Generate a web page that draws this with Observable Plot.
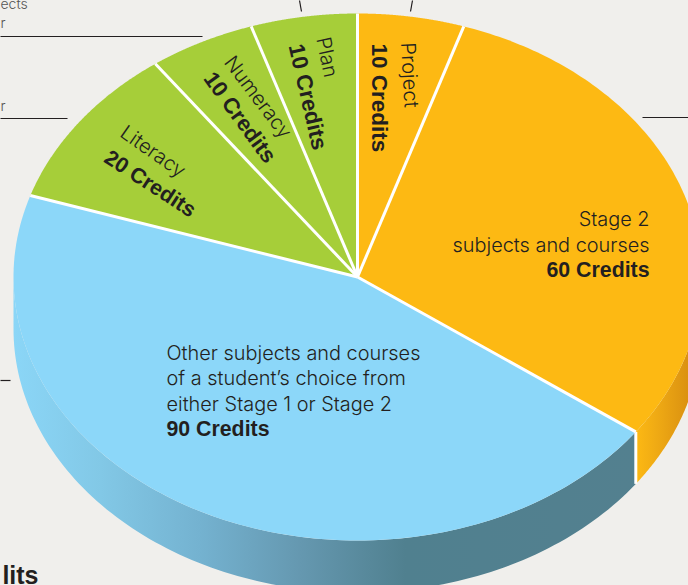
<!DOCTYPE html>
<html><head><meta charset="utf-8">
<script src="https://cdn.jsdelivr.net/npm/d3@7"></script>
<script src="https://cdn.jsdelivr.net/npm/@observablehq/plot@0.6"></script>
<style>html,body{margin:0;padding:0;background:#f0efec;overflow:hidden}svg{display:block}</style>
</head><body><div id="chart"></div>
<script>
// Data
const sliceNames = ["Project", "Stage 2", "Other", "Literacy", "Numeracy", "Plan"];
const sliceCredits = [10, 60, 90, 20, 10, 10];
const sliceColors = ["#fdb913", "#fdb913", "#8cd7f9", "#a6ce39", "#a6ce39", "#a6ce39"];

// Derived slice geometry in unit-circle coordinates (clockwise from 12 o'clock)
const total = d3.sum(sliceCredits);
const ends = Array.from(d3.cumsum(sliceCredits), c => c / total * 2 * Math.PI);
const starts = [0, ...ends.slice(0, -1)];
const W = 688, H = 585, cx = 357, cy = 276.5, rx = 344, ry = 263.5;
const depth = 52 / ry;
const rim = a => ({x: Math.sin(a), y: Math.cos(a)});
const arcPts = (a0, a1) => d3.range(0, 121).map(i => rim(a0 + (a1 - a0) * i / 120));
const px = x => (x - cx) / rx, py = y => (cy - y) / ry;

const faces = sliceNames.flatMap((name, i) =>
  [{x: 0, y: 0}, ...arcPts(starts[i], ends[i])].map(p => ({...p, name, color: sliceColors[i]})));
const wall = (a0, a1, name) => {
  const t = arcPts(a0, a1);
  const b = t.slice().reverse().map(p => ({x: p.x, y: p.y - depth}));
  return [...t, ...b].map(p => ({...p, name}));
};
const wallBlue = wall(ends[1], 1.5 * Math.PI, "blue");
const wallOrange = wall(Math.PI / 2, ends[1], "orange");
const separators = ends.map(a => { const r = rim(a); return {x1: 0, y1: 0, x2: r.x, y2: r.y}; });
const edge = rim(ends[1]);

// Labels
const regularLabels = [
  {t: "Project", x: 407, y: 42, r: 87, a: "start", s: 20.2},
  {t: "Plan", x: 322, y: 37, r: 78, a: "start", s: 20.2},
  {t: "Numeracy", x: 228, y: 58, r: 53, a: "start", s: 20.2},
  {t: "Literacy", x: 122, y: 130, r: 35, a: "start", s: 20.2},
  {t: "Stage 2", x: 649, y: 219, r: 0, a: "end", s: 19.9},
  {t: "subjects and courses", x: 649, y: 245, r: 0, a: "end", s: 19.9},
  {t: "Other subjects and courses", x: 166, y: 353, r: 0, a: "start", s: 19.9},
  {t: "of a student’s choice from", x: 166, y: 378, r: 0, a: "start", s: 19.9},
  {t: "either Stage 1 or Stage 2", x: 166, y: 404, r: 0, a: "start", s: 19.9}
];
const cutLabels = [
  {t: "ects", x: 0, y: 4, r: 0, a: "start", s: 14},
  {t: "r", x: 0, y: 23, r: 0, a: "start", s: 14},
  {t: "r", x: 0, y: 106, r: 0, a: "start", s: 14}
];
const boldLabels = [
  {t: "10 Credits", x: 379, y: 43, r: 90, a: "start", s: 22.5},
  {t: "10 Credits", x: 295, y: 44, r: 77, a: "start", s: 22.3},
  {t: "10 Credits", x: 208, y: 74, r: 54, a: "start", s: 22},
  {t: "20 Credits", x: 106, y: 155, r: 33, a: "start", s: 21.5},
  {t: "60 Credits", x: 649, y: 270, r: 0, a: "end", s: 21.3},
  {t: "90 Credits", x: 166, y: 429, r: 0, a: "start", s: 21.3}
];
const leaders = [
  [0, 36, 202, 36], [0, 118, 67, 118], [0, 380, 10, 380], [642, 117, 688, 117],
  [299, 0, 301, 11], [412, 0, 410, 11]
].map(([a, b, c, d]) => ({x1: px(a), y1: py(b), x2: px(c), y2: py(d)}));

const grad = (id, stops) => () => {
  const g = d3.create("svg:linearGradient").attr("id", id);
  stops.forEach(([o, c]) => g.append("stop").attr("offset", o).attr("stop-color", c));
  const defs = d3.create("svg:defs"); defs.append(() => g.node());
  return defs.node();
};
const textMark = (rows, opts) => [
  ...["start", "end"].flatMap(a => d3.groups(rows.filter(d => d.a === a), d => d.r).map(([r, g]) => Plot.text(g, {
    x: d => px(d.x), y: d => py(d.y), text: "t", rotate: r, textAnchor: a, lineAnchor: "middle",
    fontSize: d => d.s, fill: "#231f20", ...opts
  })))
];

const chart = Plot.plot({
  width: W, height: H, margin: 0,
  x: {domain: [-1, 1], range: [cx - rx, cx + rx], axis: null},
  y: {domain: [1, -1], range: [cy - ry, cy + ry], axis: null},
  style: {background: "transparent"},
  marks: [
    grad("blueWall", [[0, "#8bd6f7"], [0.14, "#82c8e6"], [0.3, "#74b2d0"], [0.46, "#6598b0"], [0.63, "#50808f"], [1, "#53808f"]]),
    grad("orangeWall", [[0, "#fdb913"], [0.3, "#f0ab14"], [1, "#d2870f"]]),
    Plot.line(wallBlue, {x: "x", y: "y", fill: "url(#blueWall)", stroke: "none", curve: "linear-closed"}),
    Plot.line(wallOrange, {x: "x", y: "y", fill: "url(#orangeWall)", stroke: "none", curve: "linear-closed"}),
    Plot.link([{x: edge.x, y1: edge.y, y2: edge.y - depth}], {x1: "x", x2: "x", y1: "y1", y2: "y2", stroke: "white", strokeWidth: 3}),
    Plot.line(faces, {x: "x", y: "y", z: "name", fill: "color", stroke: "none", curve: "linear-closed"}),
    Plot.link(separators, {x1: "x1", y1: "y1", x2: "x2", y2: "y2", stroke: "white", strokeWidth: 3}),
    Plot.link(leaders, {x1: "x1", y1: "y1", x2: "x2", y2: "y2", stroke: "#231f20", strokeWidth: 1.2}),
    ...textMark(regularLabels, {fontFamily: "Inter, Liberation Sans", fontWeight: 300}),
    ...textMark(cutLabels, {fontFamily: "Inter, Liberation Sans", fontWeight: 300, fill: "#555"}),
    ...textMark(boldLabels, {fontFamily: "Liberation Sans", fontWeight: 700}),
    Plot.text([{t: "lits", x: 38, y: 575}], {x: d => px(d.x), y: d => py(d.y), text: "t", textAnchor: "end", fontFamily: "Liberation Sans", fontWeight: 700, fontSize: 25, fill: "#231f20"})
  ]
});
document.getElementById("chart").append(chart);
</script></body></html>
